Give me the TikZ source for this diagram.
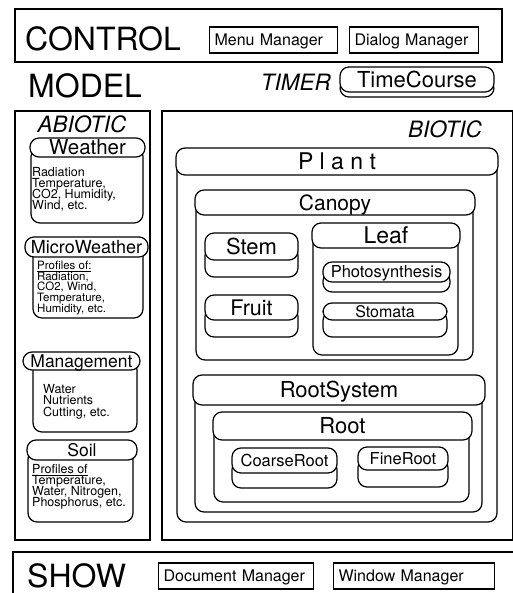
\documentclass[tikz,border=0pt]{standalone}
\usepackage{fontspec}
\setmainfont{TeX Gyre Heros}
\setlength{\lineskiplimit}{-10pt}
\tikzset{
  panel/.style={draw, line width=1.5pt},
  title/.style={anchor=base west, inner sep=0, font=\fontsize{32}{32}\selectfont},
  part/.style={inner sep=0, font=\itshape\fontsize{22.5}{22.5}\selectfont},
  manager/.style={
    draw,
    line width=1.1pt,
    anchor=west,
    inner xsep=5pt,
    inner ysep=0pt,
    minimum height=26pt,
    text height=11.5pt,
    text depth=0pt,
    align=left,
    font=\fontsize{16}{16}\selectfont
  },
  shelf/.style={draw, line width=1.2pt, fill=white, rounded corners=9pt},
  pill/.style={draw, line width=1.2pt, fill=white, rounded corners=9pt, inner sep=0pt},
  props/.style={
    anchor=north west,
    inner sep=0pt,
    align=left,
    font=\fontsize{12.5}{11}\selectfont
  },
}
\begin{document}
\begin{tikzpicture}[x=1pt,y=-1pt]
\useasboundingbox (0,0) rectangle (512,593);
% the four panels
\draw[panel] (15,9) rectangle (502,62);
\draw[panel] (15,111) rectangle (150,540);
\draw[panel] (162,111) rectangle (513,540);
\draw[panel] (13,552) rectangle (520,600);
\node[title] (control) at (25,51) {CONTROL};
\node[title] (model) at (28,98) {MODEL};
\node[title] (show) at (27,587) {SHOW};
\node[part, anchor=base east] (timerlbl) at (331,91) {TIMER};
\node[part, anchor=base] (abiotic) at (82,133) {ABIOTIC};
\node[part, anchor=base east] (biotic) at (482,138) {BIOTIC};
% managers
\node[manager, text width=118pt] (menu) at (209,40) {Menu Manager};
\node[manager, text width=119pt] (dialog) at (349,40) {Dialog Manager};
\node[manager, text width=145pt] (document) at (158,576) {Document Manager};
\node[manager, text width=151pt] (window) at (333,576) {Window Manager};
% objects: name/head left/head right/head top/head bottom/bottom/body left/body right/size/text
\foreach \nm/\xa/\xb/\ya/\yb/\yc/\ba/\bb/\fs/\txt in {
  timecourse/340/494/67/92/97/340/494/22/TimeCourse,
  weather/30/145/138/157/223/31/143/20.5/Weather,
  micro/25/148/237/257/318/33/143/18/MicroWeather,
  mgmt/23/140/352/370/432/33/137/17.5/Management,
  soil/27/137/440/460/522/28/133/17.5/Soil,
  plant/176/498/148/175/522/177/497/23/{P l a n t},
  canopy/195/475/190/215/360/196/473/21/Canopy,
  stem/205/298/233/260/277/205/298/22/Stem,
  fruit/205/298/295/320/337/205/298/21.5/Fruit,
  leaf/312/460/223/248/355/313/458/23/Leaf,
  photo/323/450/262/282/292/323/450/16.5/Photosynthesis,
  stomata/323/447/303/320/337/323/447/16/Stomata,
  rootsys/193/485/375/405/512/195/482/22/RootSystem,
  root/213/472/412/440/502/214/469/22/Root,
  coarse/232/337/448/473/488/232/337/16.5/CoarseRoot,
  fine/358/448/447/470/487/358/448/16.5/FineRoot}{
  \draw[shelf] (\ba,{(\ya+\yb)/2}) rectangle (\bb,\yc);
  \node[pill, minimum width={(\xb-\xa)*1pt}, minimum height={(\yb-\ya)*1pt},
    text height={0.72*\fs*1pt}, text depth=0pt, font=\fontsize{\fs}{\fs}\selectfont]
    (\nm) at ({(\xa+\xb)/2},{(\ya+\yb)/2}) {\txt};
}
% what the abiotic objects hold
\node[props] (weathertxt) at (32,167) {Radiation\\Temperature,\\CO2, Humidity,\\Wind, etc.};
\node[props, font=\fontsize{11.5}{10.6}\selectfont] (microtxt) at (37,261) {\underline{Profiles of:}\\Radiation,\\CO2, Wind,\\Temperature,\\Humidity, etc.};
\node[props, font=\fontsize{12.5}{11.5}\selectfont] (mgmttxt) at (43,384) {Water\\Nutrients\\Cutting, etc.};
\node[props] (soiltxt) at (32,464) {\underline{Profiles of}\\Temperature,\\Water, Nitrogen,\\Phosphorus, etc.};
\end{tikzpicture}
\end{document}
